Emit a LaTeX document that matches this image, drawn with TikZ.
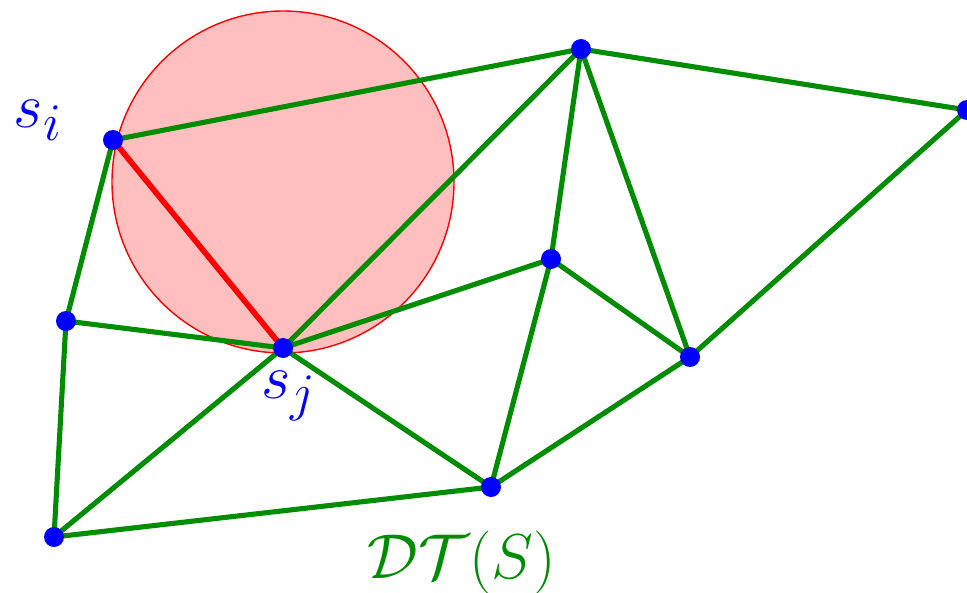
\documentclass[tikz,border=0pt]{standalone}
\usepackage{amsmath}
\begin{document}
\begin{tikzpicture}[x=0.02cm,y=-0.02cm,
  pt/.style={circle,fill=blue,inner sep=0pt,minimum size=0.4cm},
  edge/.style={draw=green!55!black,line width=2.9pt},
  redge/.style={draw=red,line width=3.2pt},
  lbl/.style={text=blue,font=\fontsize{24.88}{30}\selectfont}]
\useasboundingbox (0,0) rectangle (967,592);
\fill[red!25,draw=red,line width=0.8pt] (283,182) circle (171*0.02cm);
\coordinate (A) at (113,140);
\coordinate (B) at (581,49);
\coordinate (C) at (967,110);
\coordinate (D) at (66,321);
\coordinate (E) at (283,348);
\coordinate (F) at (551,259);
\coordinate (G) at (690,357);
\coordinate (H) at (491,487);
\coordinate (I) at (54,537);
\draw[edge] (A)--(B) (B)--(C) (A)--(D) (D)--(E) (D)--(I) (I)--(E) (I)--(H)
  (E)--(B) (E)--(F) (E)--(H) (F)--(B) (F)--(H) (F)--(G) (B)--(G) (G)--(C) (G)--(H);
\draw[redge] (A)--(E);
\foreach \p in {A,B,C,D,E,F,G,H,I} \node[pt] (n\p) at (\p) {};
\node[lbl] (si) at (38,120) {\scalebox{1.45}{$s_i$}};
\node[lbl] (sj) at (289,396) {\scalebox{1.45}{$s_j$}};
\node[text=green!55!black,font=\fontsize{24.88}{30}\selectfont] (dt) at (462,563) {\scalebox{1.45}{$\mathcal{DT}(S)$}};
\end{tikzpicture}
\end{document}
